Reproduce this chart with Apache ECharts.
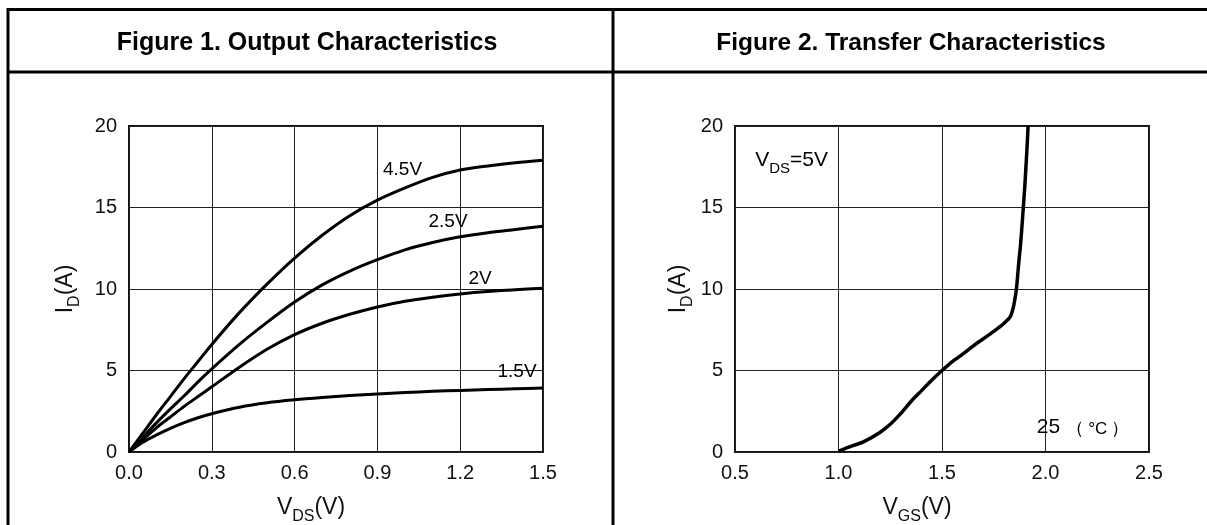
<!DOCTYPE html>
<html>
<head>
<meta charset="utf-8">
<script src="https://cdn.jsdelivr.net/npm/echarts@6/dist/echarts.min.js"></script>
<style>
html,body{margin:0;padding:0;background:#fff;}
#c{width:1207px;height:525px;}
</style>
</head>
<body>
<div id="c"></div>
<script>
// ---------- data ----------
const titles = ['Figure 1. Output Characteristics', 'Figure 2. Transfer Characteristics'];

const vds = [0,0.05,0.1,0.15,0.2,0.25,0.3,0.4,0.5,0.6,0.7,0.8,0.9,1.0,1.1,1.2,1.3,1.4,1.5];
const id45 = [0,1.15,2.3,3.4,4.5,5.55,6.6,8.55,10.3,11.9,13.3,14.5,15.45,16.2,16.85,17.3,17.55,17.75,17.9];
const id25 = [0,0.9,1.8,2.65,3.45,4.3,5.1,6.6,7.95,9.2,10.25,11.1,11.8,12.4,12.85,13.2,13.45,13.65,13.85];
const id20 = [0,0.75,1.5,2.15,2.8,3.4,4.0,5.2,6.3,7.2,7.9,8.45,8.9,9.25,9.5,9.7,9.85,9.95,10.05];
const id15 = [0,0.6,1.05,1.45,1.8,2.1,2.35,2.75,3.02,3.2,3.34,3.46,3.56,3.65,3.72,3.78,3.83,3.88,3.92];
const outNames = ['4.5V','2.5V','2V','1.5V'];

const vgs = [1.0,1.05,1.12,1.2,1.25,1.3,1.35,1.4,1.45,1.5,1.55,1.6,1.65,1.7,1.75,1.8,1.83,1.845,1.855,1.862,1.87,1.88,1.89,1.9,1.91,1.916];
const idT = [0.05,0.3,0.62,1.2,1.7,2.35,3.1,3.75,4.4,5.0,5.55,6.0,6.5,6.95,7.4,7.9,8.3,8.9,9.6,10.3,11.5,12.8,14.5,16.3,18.5,20];

const xTicksOut = [0.0,0.3,0.6,0.9,1.2,1.5];
const xTicksTr = [0.5,1.0,1.5,2.0,2.5];
const yTicks = [0,5,10,15,20];

// annotation anchors (data units): [x, y, text]
const outLabels = [[0.92,17.3,'4.5V'],[1.085,14.1,'2.5V'],[1.23,10.6,'2V'],[1.335,4.9,'1.5V']];
const trLabels = [[0.597,18.0,'{a|V}{s|DS}{a|=5V}'],[1.958,1.6,'{a|25}{p|（}{c|°C}{q|）}']];

// ---------- chart ----------
const chart = echarts.init(document.getElementById('c'), null, {renderer:'canvas'});
const FONT = "'Liberation Sans', Arial, sans-serif";
const txt = '#111';
const zip = (xs, ys) => xs.map((x,i)=>[x, ys[i]]);

const nameRich = {
  a:{fontSize:23, fontFamily:FONT, color:txt, verticalAlign:'bottom', lineHeight:26},
  s:{fontSize:16, fontFamily:FONT, color:txt, verticalAlign:'bottom', lineHeight:20, padding:[0,0,-6,0]}
};

function xAxis(gi, min, max, interval, name){
  return {
    type:'value', gridIndex:gi, min, max, interval,
    axisLine:{show:false}, axisTick:{show:false},
    splitLine:{show:true, lineStyle:{color:'#222', width:1}},
    axisLabel:{color:txt, fontSize:20, fontFamily:FONT, margin:11, formatter:v=>v.toFixed(1)},
    name, nameLocation:'middle', nameGap:41,
    nameTextStyle:{padding:[0,50,0,0], rich:nameRich}
  };
}
function yAxis(gi, nameGap){
  return {
    type:'value', gridIndex:gi, min:0, max:20, interval:5,
    axisLine:{show:false}, axisTick:{show:false},
    splitLine:{show:true, lineStyle:{color:'#222', width:1}},
    axisLabel:{color:txt, fontSize:20, fontFamily:FONT, margin:12},
    name:'{a|I}{s|D}{a|(A)}', nameLocation:'middle', nameGap, nameRotate:90,
    nameTextStyle:{rich:nameRich}
  };
}

const lineSeries = [id45,id25,id20,id15].map((ys,i)=>({
  type:'line', name:outNames[i], xAxisIndex:0, yAxisIndex:0,
  data: zip(vds, ys), smooth:0.3, showSymbol:false, symbol:'none',
  lineStyle:{color:'#000', width:3}, silent:true, z:5
}));

const option = {
  animation:false,
  backgroundColor:'#fff',
  title: titles.map((t,i)=>({
    text:t, left: i===0 ? 302 : 906, top:26, textAlign:'center',
    textStyle:{fontFamily:FONT, fontWeight:'bold', fontSize:i===0?25:24.5, color:'#000'}
  })),
  grid:[
    {left:129, right:664, top:126, bottom:73, show:true, borderColor:'#111', borderWidth:2,
     backgroundColor:'transparent', containLabel:false, outerBoundsMode:'none'},
    {left:735, right:58, top:126, bottom:73, show:true, borderColor:'#111', borderWidth:2,
     backgroundColor:'transparent', containLabel:false, outerBoundsMode:'none'}
  ],
  xAxis:[
    xAxis(0, 0, 1.5, 0.3, '{a|V}{s|DS}{a|(V)}'),
    xAxis(1, 0.5, 2.5, 0.5, '{a|V}{s|GS}{a|(V)}')
  ],
  yAxis:[ yAxis(0, 52), yAxis(1, 45) ],
  graphic:[
    {type:'line', shape:{x1:7,y1:9.5,x2:1207,y2:9.5}, style:{stroke:'#000', lineWidth:3}},
    {type:'line', shape:{x1:7,y1:72,x2:1207,y2:72}, style:{stroke:'#000', lineWidth:3}},
    {type:'line', shape:{x1:8,y1:8,x2:8,y2:525}, style:{stroke:'#000', lineWidth:3}},
    {type:'line', shape:{x1:613,y1:8,x2:613,y2:525}, style:{stroke:'#000', lineWidth:3}}
  ],
  series:[
    ...lineSeries,
    {
      type:'line', name:'25C', xAxisIndex:1, yAxisIndex:1,
      data: zip(vgs, idT), smooth:0.25, showSymbol:false, symbol:'none',
      lineStyle:{color:'#000', width:3.5}, silent:true, z:5
    },
    {
      type:'scatter', xAxisIndex:0, yAxisIndex:0, symbolSize:0.1, silent:true, z:6,
      itemStyle:{opacity:1, color:'#000'},
      data: outLabels.map(d=>({value:[d[0],d[1]], name:d[2]})),
      label:{show:true, position:'right', distance:0, formatter:p=>p.name,
        fontSize:19, fontFamily:FONT, color:'#000', opacity:1}
    },
    {
      type:'scatter', xAxisIndex:1, yAxisIndex:1, symbolSize:0.1, silent:true, z:6,
      itemStyle:{opacity:1, color:'#000'},
      data: trLabels.map(d=>({value:[d[0],d[1]], name:d[2]})),
      label:{show:true, position:'right', distance:0, formatter:p=>p.name, opacity:1,
        rich:{
          a:{fontSize:21, fontFamily:FONT, color:'#000', verticalAlign:'bottom', lineHeight:24},
          s:{fontSize:15, fontFamily:FONT, color:'#000', verticalAlign:'bottom', lineHeight:18, padding:[0,0,-6,0]},
          p:{fontSize:18, fontFamily:FONT, color:'#000', verticalAlign:'bottom', lineHeight:23, padding:[0,4,0,6]},
          q:{fontSize:18, fontFamily:FONT, color:'#000', verticalAlign:'bottom', lineHeight:23, padding:[0,0,0,4]},
          c:{fontSize:17, fontFamily:FONT, color:'#000', verticalAlign:'bottom', lineHeight:22}
        }}
    }
  ]
};
chart.setOption(option);
</script>
</body>
</html>
